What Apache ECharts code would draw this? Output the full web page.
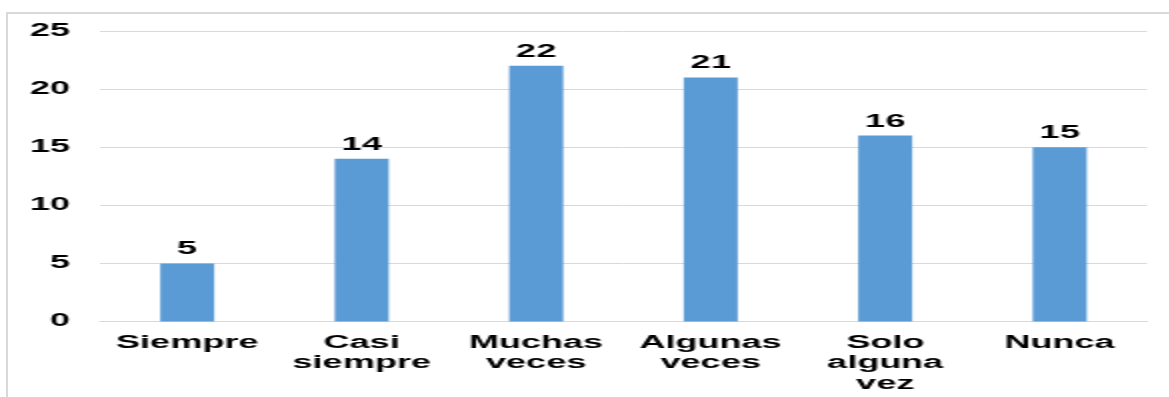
<!DOCTYPE html>
<html>
<head>
<meta charset="utf-8">
<script src="https://cdn.jsdelivr.net/npm/echarts@6/dist/echarts.min.js"></script>
<style>
  html, body { margin: 0; padding: 0; background: #fff; }
  #frame {
    position: absolute; left: 6px; top: 12px; width: 1170px; height: 400px;
    border-left: 2px solid #d9d9d9; border-top: 2px solid #d9d9d9;
  }
  /* the source picture is stretched sideways about 2x, so draw at half width and stretch */
  #chart {
    position: absolute; left: 0; top: 0; width: 584.5px; height: 397px;
    transform: scaleX(2); transform-origin: 0 0;
  }
</style>
</head>
<body>
<div id="frame"></div>
<div id="chart"></div>
<script>
var categories = ['Siempre', 'Casi siempre', 'Muchas veces', 'Algunas veces', 'Solo alguna vez', 'Nunca'];
var values = [5, 14, 22, 21, 16, 15];
var yTicks = [0, 5, 10, 15, 20, 25];

var font = 'Liberation Sans, Arial, sans-serif';

var chart = echarts.init(document.getElementById('chart'));
chart.setOption({
  animation: false,
  grid: { left: 50, right: 11.5, top: 31, bottom: 75.5 },
  xAxis: {
    type: 'category',
    data: categories,
    axisLine: { lineStyle: { color: '#d9d9d9', width: 1 } },
    axisTick: { show: false },
    axisLabel: {
      margin: 11,
      interval: 0,
      color: '#000',
      fontFamily: font,
      fontWeight: 'bold',
      fontSize: 18,
      lineHeight: 20.5,
      formatter: function (v) { return v.split(' ').join('\n'); }
    }
  },
  yAxis: {
    type: 'value',
    min: yTicks[0],
    max: yTicks[yTicks.length - 1],
    interval: 5,
    axisLine: { show: false },
    axisTick: { show: false },
    splitLine: { lineStyle: { color: '#d9d9d9', width: 1 } },
    axisLabel: {
      margin: 15,
      color: '#000',
      fontFamily: font,
      fontWeight: 'bold',
      fontSize: 18
    }
  },
  series: [{
    type: 'bar',
    data: values,
    barWidth: 27,
    itemStyle: { color: '#5b9bd5' },
    label: {
      show: true,
      position: 'top',
      distance: 5,
      color: '#000',
      fontFamily: font,
      fontWeight: 'bold',
      fontSize: 18
    }
  }]
});
</script>
</body>
</html>
